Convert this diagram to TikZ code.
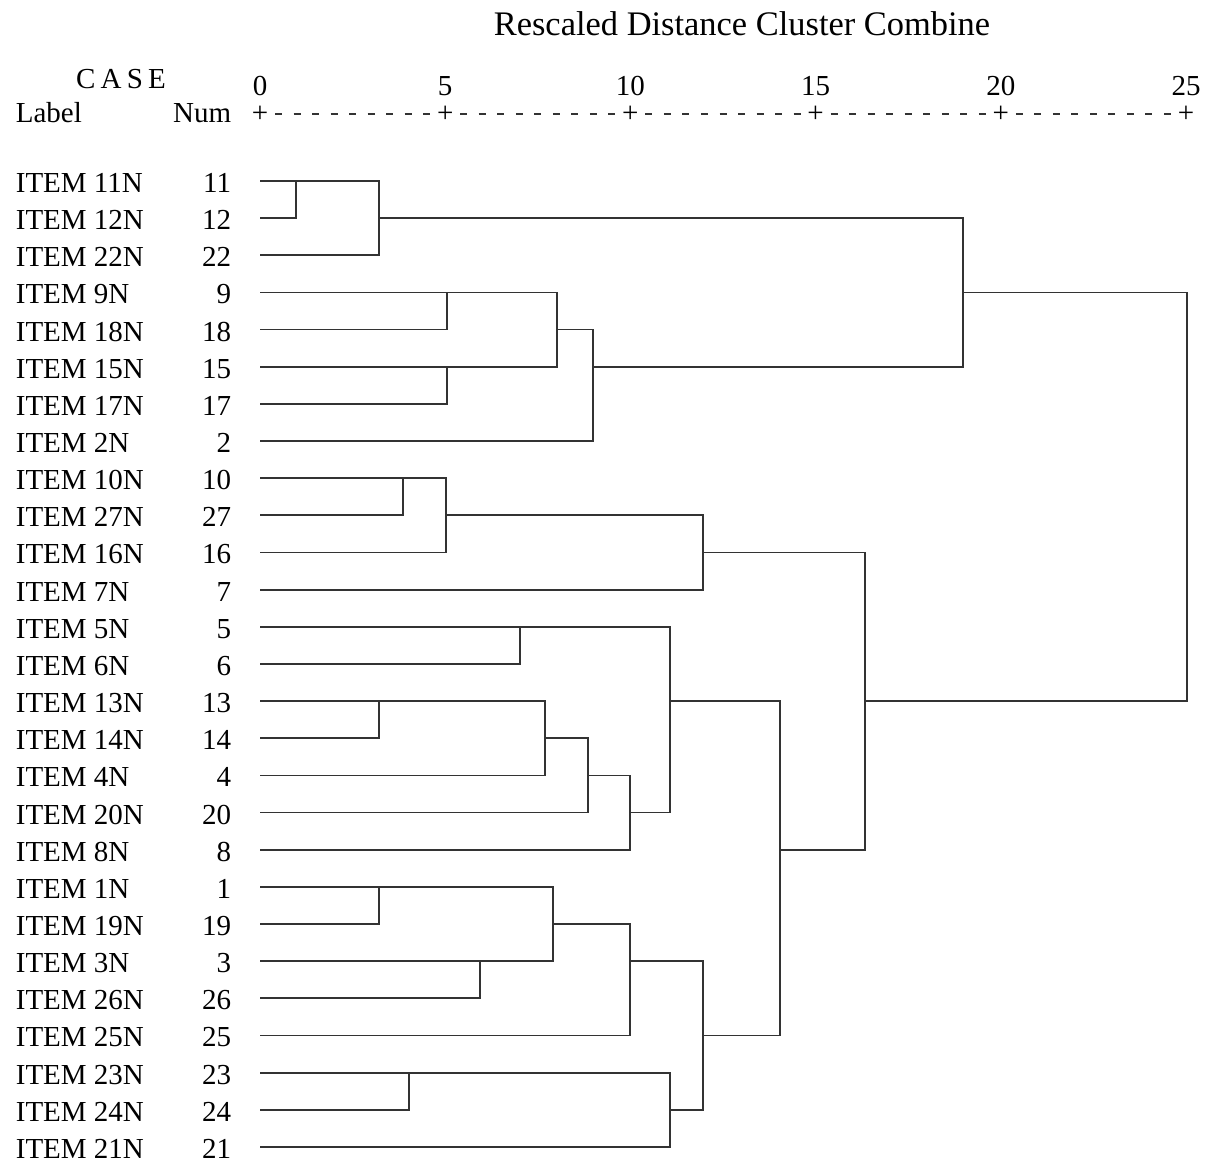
\documentclass[tikz,border=0pt]{standalone}
\usepackage{fontspec}
\setmainfont{Liberation Serif}
\usetikzlibrary{calc}
\usetikzlibrary{positioning}

\begin{document}
\begin{tikzpicture}[x=0.02cm, y=-0.02cm, draw=black!80, line width=1pt, font=\fontsize{16.5}{18}\selectfont]
	\tikzstyle{lbl}=[anchor=west, inner sep=0pt]
	\tikzstyle{num}=[anchor=east, inner sep=0pt]
	\tikzstyle{tick}=[inner sep=0pt]
	\tikzstyle{link}=[draw=black!80, line width=1pt]

	\useasboundingbox (0,0) rectangle (1209,1167);

	% header
	\node[tick] (title) at (742,24) {\fontsize{19.6}{22}\selectfont Rescaled Distance Cluster Combine};
	\node[tick] (case) at (121,79) {C\hspace{3pt}A\hspace{3pt}S\hspace{3pt}E};
	\node[lbl] (label) at (15,113) {Label};
	\node[num] (numhd) at (232,113) {Num};
	\foreach \k in {0,...,5} {
		\pgfmathsetmacro\tx{260+185.2*\k}
		\pgfmathtruncatemacro\tv{5*\k}
		\node[tick] (t\k) at (\tx,86) {\tv};
		\node[tick] (p\k) at (\tx,114) {+};
	}
	\foreach \j in {1,...,49} {
		\pgfmathtruncatemacro\md{mod(\j,10)}
		\ifnum\md>0
			\draw[line width=0.9pt] ({260+18.52*\j-3.5},114) -- ({260+18.52*\j+3.5},114);
		\fi
	}

	% cases
	\foreach \n [count=\i] in {11,12,22,9,18,15,17,2,10,27,16,7,5,6,13,14,4,20,8,1,19,3,26,25,23,24,21} {
		\pgfmathsetmacro\yy{181+37.15*(\i-1)}
		\node[lbl] (lab\n) at (15,\yy+2) {ITEM \n N};
		\node[num] (num\n) at (232,\yy+2) {\n};
		\coordinate (i\n) at (260,\yy);
	}

	% merges: name/distance/upper/lower/row of output
	\foreach \m/\x/\a/\b/\o in {m1/296/i11/i12/i11, m2/379/m1/i22/i12,
		m3/447/i9/i18/i9, m4/447/i15/i17/i15, m5/557/m3/m4/i18, m6/593/m5/i2/i15, m7/963/m2/m6/i9,
		m8/403/i10/i27/i10, m9/446/m8/i16/i27, m10/703/m9/i7/i16,
		m11/520/i5/i6/i5, m12/379/i13/i14/i13, m13/545/m12/i4/i14, m14/588/m13/i20/i4,
		m15/630/m14/i8/i20, m16/670/m11/m15/i13,
		m17/379/i1/i19/i1, m18/480/i3/i26/i3, m19/553/m17/m18/i19, m20/630/m19/i25/i3,
		m21/409/i23/i24/i23, m22/670/m21/i21/i24, m23/703/m20/m22/i25,
		m24/780/m16/m23/i8, m25/865/m10/m24/i13, m26/1187/m7/m25/i9} {
		\coordinate (\m) at (\x,0 |- \o);
		\draw[link] (\a) -| (\m) |- (\b);
	}
\end{tikzpicture}
\end{document}
